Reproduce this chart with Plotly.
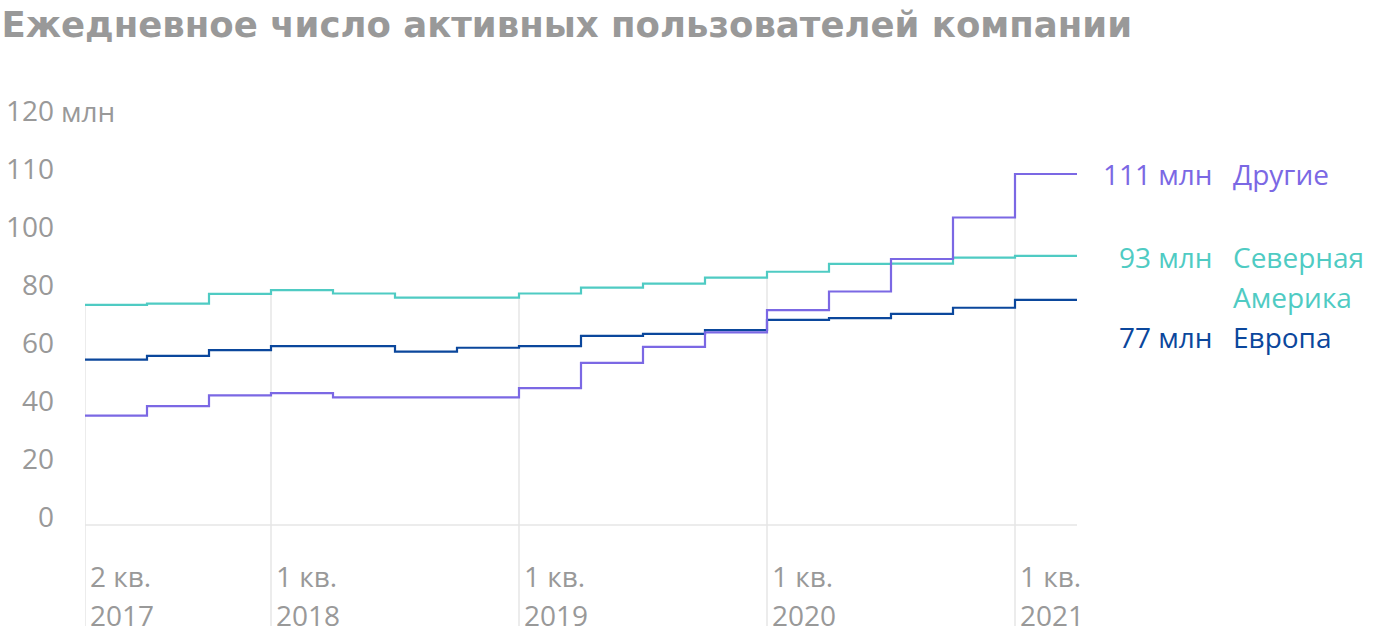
import plotly.graph_objects as go

# Quarters Q2 2017 .. Q1 2021
quarters = ["2 кв. 2017", "3 кв. 2017", "4 кв. 2017",
            "1 кв. 2018", "2 кв. 2018", "3 кв. 2018", "4 кв. 2018",
            "1 кв. 2019", "2 кв. 2019", "3 кв. 2019", "4 кв. 2019",
            "1 кв. 2020", "2 кв. 2020", "3 кв. 2020", "4 кв. 2020",
            "1 кв. 2021"]

north_america = [75.9, 76.3, 79.7, 81.0, 79.8, 78.4, 78.4, 79.8,
                 81.8, 83.2, 85.3, 87.3, 90.0, 90.1, 92.2, 92.8]
europe = [57.0, 58.3, 60.3, 61.7, 61.7, 59.8, 61.1, 61.7,
          65.2, 65.9, 67.2, 70.7, 71.3, 72.8, 74.9, 77.6]
others = [37.7, 41.0, 44.7, 45.5, 44.0, 44.0, 44.0, 47.2,
          55.9, 61.4, 66.4, 74.1, 80.5, 91.7, 106.0, 121.0]

series = [
    ("Северная<br>Америка", "93 млн", north_america, "#4FCBC3"),
    ("Европа", "77 млн", europe, "#0B479C"),
    ("Другие", "111 млн", others, "#7B68E4"),
]

y_tickvals = [0, 20, 40, 60, 80, 100, 120, 140]
y_ticktext = ["0", "20", "40", "60", "80", "100", "110", "120"]

label_idx = [0, 3, 7, 11, 15]
label_line1 = ["2 кв.", "1 кв.", "1 кв.", "1 кв.", "1 кв."]
label_line2 = ["2017", "2018", "2019", "2020", "2021"]

n = len(quarters)
xs = list(range(n + 1))

fig = go.Figure()

Y_BOTTOM = -34.8
Y_TOP = 146.5

# vertical gridlines from each labelled quarter's top value down through labels
for i in label_idx:
    top = max(north_america[i], europe[i], others[i])
    if i > 0:
        top = max(top, north_america[i - 1], europe[i - 1], others[i - 1])
    fig.add_shape(type="line", xref="x", yref="y", x0=i, x1=i, y0=Y_BOTTOM, y1=top,
                  line=dict(color="#E6E6E6", width=1.5), layer="below")

# baseline
fig.add_shape(type="line", xref="x", yref="y", x0=0, x1=n, y0=0, y1=0,
              line=dict(color="#E6E6E6", width=1.5), layer="below")

for name, val_label, vals, color in series:
    fig.add_trace(go.Scatter(
        x=xs, y=vals + [vals[-1]], mode="lines", line_shape="hv",
        line=dict(color=color, width=2.2), name=name.replace("<br>", " "),
        hoverinfo="skip", showlegend=False))

FONT = "Open Sans"
LBL = 28
GREY = "#999999"

# right-hand labels
ann = []
na_color, eu_color, ot_color = series[0][3], series[1][3], series[2][3]


def right_label(y, text, color, left, dy):
    return dict(x=1.0, xref="paper", y=y, yref="y", text=text,
                xanchor="left" if left else "right", yanchor="middle",
                xshift=154 if left else 138, yshift=dy,
                font=dict(color=color, size=LBL, family=FONT), showarrow=False)


ann.append(right_label(others[-1], "111 млн", ot_color, False, 0))
ann.append(right_label(others[-1], "Другие", ot_color, True, 0))
ann.append(right_label(north_america[-1], "93 млн", na_color, False, -1))
ann.append(right_label(north_america[-1], "Северная", na_color, True, -1))
ann.append(right_label(north_america[-1], "Америка", na_color, True, -41))
ann.append(right_label(europe[-1], "77 млн", eu_color, False, -37))
ann.append(right_label(europe[-1], "Европа", eu_color, True, -37))

# x labels, left-aligned next to gridlines
for i, t1, t2 in zip(label_idx, label_line1, label_line2):
    ann.append(dict(x=i, xref="x", y=Y_BOTTOM, yref="y", text=t1, xanchor="left",
                    yanchor="middle", xshift=3, yshift=50,
                    font=dict(color=GREY, size=LBL, family=FONT), showarrow=False))
    ann.append(dict(x=i, xref="x", y=Y_BOTTOM, yref="y", text=t2, xanchor="left",
                    yanchor="middle", xshift=3, yshift=11,
                    font=dict(color=GREY, size=LBL, family=FONT), showarrow=False))

# " млн" suffix on top y label
ann.append(dict(x=0, xref="paper", y=140, yref="y", text="млн", xanchor="left",
                yanchor="middle", xshift=-26, yshift=8,
                font=dict(color=GREY, size=LBL, family=FONT), showarrow=False))

fig.update_layout(
    width=1400, height=636,
    margin=dict(l=85, r=323, t=100, b=10),
    paper_bgcolor="white", plot_bgcolor="white",
    title=dict(text="<b>Ежедневное число активных пользователей компании</b>",
               x=0.001, xanchor="left", y=0.962, yanchor="middle",
               font=dict(family="DejaVu Sans", size=35.5, color=GREY)),
    xaxis=dict(range=[0, n], showgrid=False, zeroline=False, showline=False,
               showticklabels=False, ticks="", fixedrange=True, automargin=False),
    yaxis=dict(range=[Y_BOTTOM, Y_TOP], showgrid=False, zeroline=False, showline=False,
               tickvals=y_tickvals, ticktext=y_ticktext, ticks="", automargin=False,
               ticklabelshift=-8, ticklabelstandoff=30,
               tickfont=dict(color=GREY, size=LBL, family=FONT)),
    annotations=ann,
    showlegend=False,
)

fig.write_html("out.html")
